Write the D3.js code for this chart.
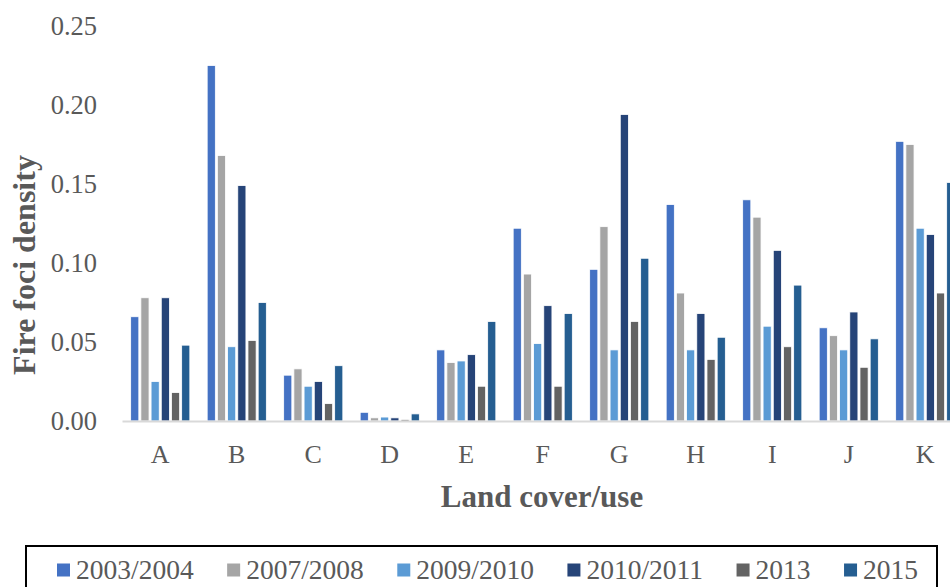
<!DOCTYPE html>
<html>
<head>
<meta charset="utf-8">
<script src="https://cdn.jsdelivr.net/npm/d3@7"></script>
<style>
  body { margin: 0; background: #fff; }
  svg { display: block; }
</style>
</head>
<body>
<div id="chart"></div>
<script>
var categories = ["A", "B", "C", "D", "E", "F", "G", "H", "I", "J", "K"]
var series = ["2003/2004", "2007/2008", "2009/2010", "2010/2011", "2013", "2015"]
var colors = ["#4472C4", "#A5A5A5", "#5B9BD5", "#264478", "#636363", "#255E91"]
var yTicks = [0, 0.05, 0.10, 0.15, 0.20, 0.25]

// one array per period, values in category order A..K
var v2003 = [0.066, 0.225, 0.029, 0.0055, 0.045, 0.122, 0.096, 0.137, 0.140, 0.059, 0.177]
var v2007 = [0.078, 0.168, 0.033, 0.002, 0.037, 0.093, 0.123, 0.081, 0.129, 0.054, 0.175]
var v2009 = [0.025, 0.047, 0.022, 0.0025, 0.038, 0.049, 0.045, 0.045, 0.060, 0.045, 0.122]
var v2010 = [0.078, 0.149, 0.025, 0.002, 0.042, 0.073, 0.194, 0.068, 0.108, 0.069, 0.118]
var v2013 = [0.018, 0.051, 0.011, 0.001, 0.022, 0.022, 0.063, 0.039, 0.047, 0.034, 0.081]
var v2015 = [0.048, 0.075, 0.035, 0.0045, 0.063, 0.068, 0.103, 0.053, 0.086, 0.052, 0.151]
var values = [v2003, v2007, v2009, v2010, v2013, v2015]

var width = 950
var height = 587
var textColor = "#595959"
var font = "'Liberation Serif', 'Times New Roman', serif"

var svg = d3.select("#chart").append("svg")
  .attr("width", width)
  .attr("height", height)

var x0 = d3.scaleBand()
  .domain(categories)
  .range([122, 963.5])
  .paddingInner(0.2)
  .paddingOuter(0.1)

var x1 = d3.scaleBand()
  .domain(series)
  .range([0, x0.bandwidth()])
  .paddingInner(0.2)
  .paddingOuter(0.1)

var y = d3.scaleLinear()
  .domain([0, 0.25])
  .range([421, 26])

// bars
var groups = svg.append("g")
  .selectAll("g")
  .data(categories)
  .enter().append("g")
  .attr("transform", function(c) { return "translate(" + x0(c) + ",0)" })

groups.selectAll("rect")
  .data(function(c, i) {
    return series.map(function(s, j) {
      return { series: s, value: values[j][i], color: colors[j] }
    })
  })
  .enter().append("rect")
  .attr("x", function(d) { return x1(d.series) })
  .attr("width", x1.bandwidth())
  .attr("y", function(d) { return y(d.value) })
  .attr("height", function(d) { return y(0) - y(d.value) })
  .attr("fill", function(d) { return d.color })
  .attr("stroke", "#fff")
  .attr("stroke-width", 0.8)

// x axis
var xAxis = svg.append("g")
  .attr("transform", "translate(0," + y(0) + ")")
  .call(d3.axisBottom(x0).tickSize(0).tickSizeOuter(0))
xAxis.select(".domain")
  .attr("stroke", "#D9D9D9")
  .attr("stroke-width", 2)
xAxis.selectAll("text")
  .attr("y", 0)
  .attr("dy", 0)
  .attr("transform", "translate(0,42)")
  .style("font-family", font)
  .style("font-size", "26px")
  .attr("fill", textColor)

// y axis (labels only)
var yAxis = svg.append("g")
  .attr("transform", "translate(97,0)")
  .call(d3.axisLeft(y).tickValues(yTicks).tickFormat(d3.format(".2f")).tickSize(0).tickPadding(0))
yAxis.select(".domain").remove()
yAxis.selectAll("text")
  .attr("dy", "0.33em")
  .style("font-family", font)
  .style("font-size", "26.5px")
  .attr("fill", textColor)

// titles
svg.append("text")
  .attr("x", 542)
  .attr("y", 507)
  .attr("text-anchor", "middle")
  .style("font-family", font)
  .style("font-size", "31px")
  .style("font-weight", "bold")
  .attr("fill", textColor)
  .text("Land cover/use")

svg.append("text")
  .attr("transform", "translate(35,265) rotate(-90)")
  .attr("text-anchor", "middle")
  .style("font-family", font)
  .style("font-size", "32px")
  .style("font-weight", "bold")
  .attr("fill", textColor)
  .text("Fire foci density")

// legend
svg.append("rect")
  .attr("x", 26)
  .attr("y", 546)
  .attr("width", 911)
  .attr("height", 60)
  .attr("fill", "none")
  .attr("stroke", "#000")
  .attr("stroke-width", 2)

var legendX = 57
series.forEach(function(s, i) {
  svg.append("rect")
    .attr("x", legendX)
    .attr("y", 563.5)
    .attr("width", 13)
    .attr("height", 13)
    .attr("fill", colors[i])
  var t = svg.append("text")
    .attr("x", legendX + 19)
    .attr("y", 579)
    .style("font-family", font)
    .style("font-size", "27.5px")
    .attr("fill", textColor)
    .text(s)
  legendX += 19 + t.node().getComputedTextLength() + 33.5
})
</script>
</body>
</html>
